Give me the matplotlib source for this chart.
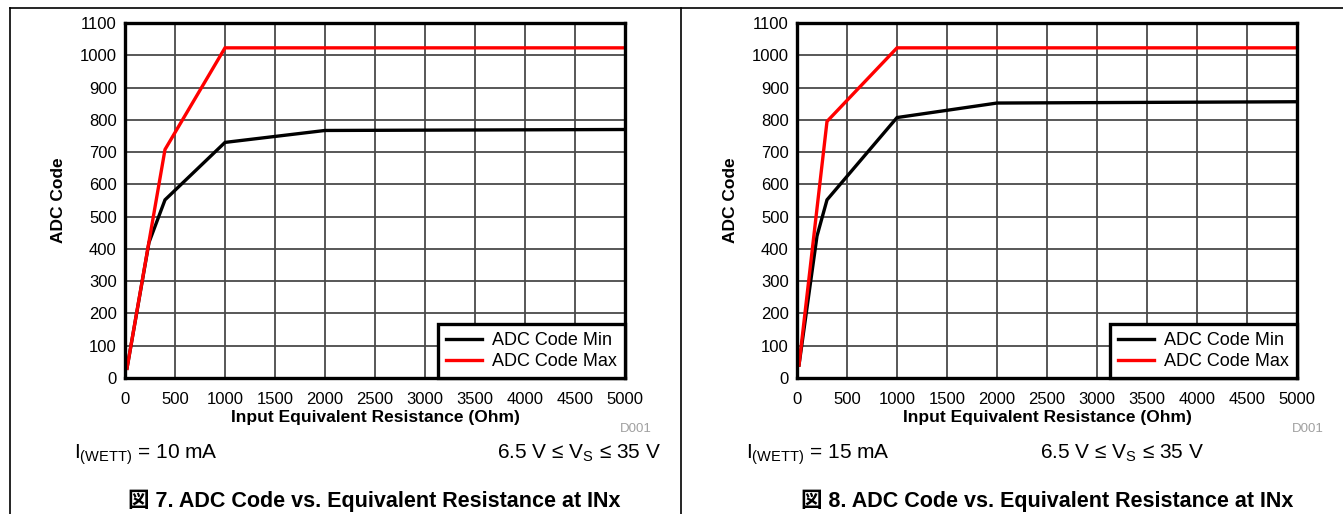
import matplotlib
matplotlib.use("Agg")
import matplotlib.pyplot as plt
from matplotlib.lines import Line2D

plt.rcParams['font.family'] = ['Liberation Sans', 'DejaVu Sans']
plt.rcParams['mathtext.fontset'] = 'custom'
plt.rcParams['mathtext.rm'] = 'Liberation Sans'
plt.rcParams['mathtext.it'] = 'Liberation Sans:italic'
plt.rcParams['mathtext.bf'] = 'Liberation Sans:bold'

# ---- data ----
x_ticks = [0, 500, 1000, 1500, 2000, 2500, 3000, 3500, 4000, 4500, 5000]
y_ticks = [0, 100, 200, 300, 400, 500, 600, 700, 800, 900, 1000, 1100]

r10_min = [20, 240, 400, 1000, 2000, 5000]
code10_min = [30, 420, 552, 730, 767, 770]
r10_max = [20, 400, 1000, 5000]
code10_max = [30, 708, 1023, 1023]

r15_min = [20, 200, 300, 1000, 2000, 5000]
code15_min = [40, 440, 552, 807, 852, 856]
r15_max = [20, 300, 1000, 5000]
code15_max = [40, 795, 1023, 1023]

series_labels = ["ADC Code Min", "ADC Code Max"]
series_colors = ["#000000", "#ff0000"]
xlabel = "Input Equivalent Resistance (Ohm)"
ylabel = "ADC Code"
conditions = ["$\\mathregular{I_{(WETT)}}$ = 10 mA", "$\\mathregular{I_{(WETT)}}$ = 15 mA"]
vs_text = "6.5 V ≤ V$_\\mathregular{S}$ ≤ 35 V"
captions = ["図 7. ADC Code vs. Equivalent Resistance at INx",
            "図 8. ADC Code vs. Equivalent Resistance at INx"]

W, H = 1343, 514
fig = plt.figure(figsize=(W / 100, H / 100), dpi=100)

def fx(px):
    return px / W

def fy(py):
    return 1 - py / H

panels = [
    dict(left=125, data=((r10_min, code10_min), (r10_max, code10_max)),
         cond=conditions[0], cond_x=74, vs_right=661, d001=652, cap=captions[0], cap_x=128),
    dict(left=797, data=((r15_min, code15_min), (r15_max, code15_max)),
         cond=conditions[1], cond_x=746, vs_right=1204, d001=1324, cap=captions[1], cap_x=801),
]

ax_w = 500
ax_top, ax_bot = 23, 378

for p in panels:
    ax = fig.add_axes([fx(p['left']), fy(ax_bot), fx(ax_w), (ax_bot - ax_top) / H])
    ax.set_xlim(0, 5000)
    ax.set_ylim(0, 1100)
    ax.set_xticks(x_ticks)
    ax.set_yticks(y_ticks)
    ax.tick_params(length=0, labelsize=12, colors='black')
    ax.tick_params(axis='x', pad=10)
    ax.tick_params(axis='y', pad=6)
    ax.grid(True, color='#4a4a4a', linewidth=1.3)
    ax.set_axisbelow(True)
    for s in ax.spines.values():
        s.set_linewidth(2.4)
        s.set_color('black')
    for (xs, ys), lab, col in zip(p['data'], series_labels, series_colors):
        ax.plot(xs, ys, color=col, linewidth=2.4, label=lab, solid_joinstyle='miter')
    leg = ax.legend(loc='lower right', borderaxespad=0, fontsize=13, fancybox=False,
                    framealpha=1, edgecolor='black', handlelength=2.0,
                    handletextpad=0.55, borderpad=0.45, labelspacing=0.2)
    leg.get_frame().set_linewidth(2.4)
    ax.set_xlabel(xlabel, fontsize=12.5, fontweight='bold', labelpad=2)
    ax.set_ylabel(ylabel, fontsize=12.5, fontweight='bold', labelpad=10)

    fig.text(fx(p['d001']), fy(429), "D001", fontsize=9.5, color='#a0a0a0',
             ha='right', va='center')
    fig.text(fx(p['cond_x']), fy(459), p['cond'], fontsize=15, ha='left', va='baseline')
    fig.text(fx(p['vs_right']), fy(459), vs_text, fontsize=15, ha='right', va='baseline',
             family=['Liberation Sans', 'DejaVu Sans'])
    fig.text(fx(p['cap_x']), fy(507), p['cap'], fontsize=15.5, fontweight='bold',
             ha='left', va='baseline', family=['Liberation Sans', 'Noto Sans CJK JP'])

# frame lines
fig.add_artist(Line2D([fx(10), 1], [fy(8), fy(8)], color='black', linewidth=1.2))
fig.add_artist(Line2D([fx(10), fx(10)], [fy(8), 0], color='black', linewidth=1.2))
fig.add_artist(Line2D([fx(681), fx(681)], [fy(8), 0], color='black', linewidth=1.2))

fig.savefig("out.png", dpi=100)
